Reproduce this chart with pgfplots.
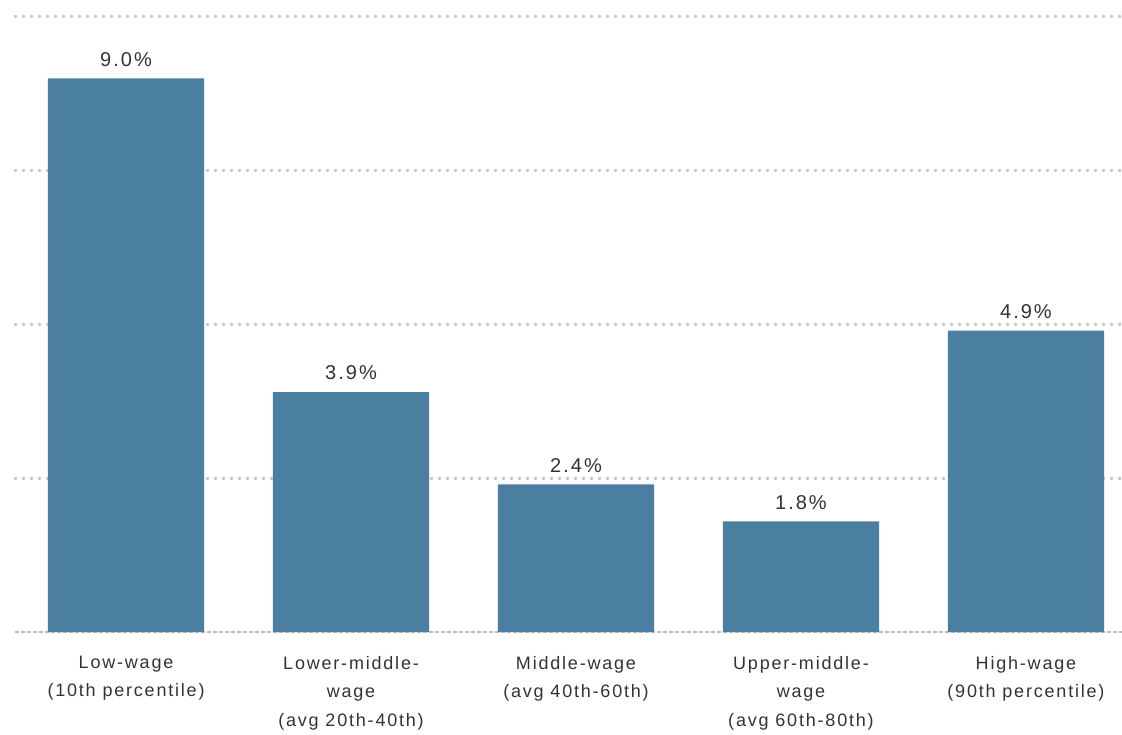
\documentclass[border=0pt]{standalone}
\usepackage{pgfplots}
\pgfplotsset{compat=1.18}
\usepackage{fontspec}
\setmainfont[LetterSpace=10]{Liberation Sans}
\definecolor{barblue}{HTML}{4A7FA1}
\definecolor{txt}{HTML}{333333}
\definecolor{gridc}{HTML}{CCCCCC}
\definecolor{basec}{HTML}{BBBBBB}
\begin{document}
\begin{tikzpicture}
\useasboundingbox (-7pt,-51pt) rectangle (554pt,316pt);
\clip (-7pt,-51pt) rectangle (554pt,316pt);
\begin{axis}[
  at={(0,0)}, anchor=south west,
  scale only axis,
  width=554pt, height=307.5pt,
  xmin=-0.498, xmax=4.427,
  ymin=0, ymax=10,
  ybar, bar width=0.695,
  axis line style={draw=none},
  major tick length=0pt,
  ytick={2.5,5,7.5,10},
  yticklabels={},
  ymajorgrids,
  grid style={gridc, line width=1.5pt, dash pattern=on 1.5pt off 2.5pt},
  xtick={0,1,2,3,4},
  xticklabels={{Low-wage\\(10th percentile)},{Lower-middle-\\wage\\(avg 20th-40th)},{Middle-wage\\(avg 40th-60th)},{Upper-middle-\\wage\\(avg 60th-80th)},{High-wage\\(90th percentile)}},
  xticklabel style={align=center, text=txt, font=\fontsize{9}{14.25}\selectfont, yshift=-8.5pt},
  nodes near coords={\pgfmathprintnumber[fixed,fixed zerofill,precision=1]{\pgfplotspointmeta}\%},
  nodes near coords style={text=txt, font=\fontsize{10}{12}\selectfont, yshift=2.5pt},
  /pgf/number format/assume math mode=true,
]
\draw[basec, line width=1.5pt, dash pattern=on 2pt off 1pt] (axis cs:-0.6,0) -- (axis cs:4.6,0);
\addplot[fill=barblue, draw=none] coordinates {(0,9.0) (1,3.9) (2,2.4) (3,1.8) (4,4.9)};
\end{axis}
\end{tikzpicture}
\end{document}
